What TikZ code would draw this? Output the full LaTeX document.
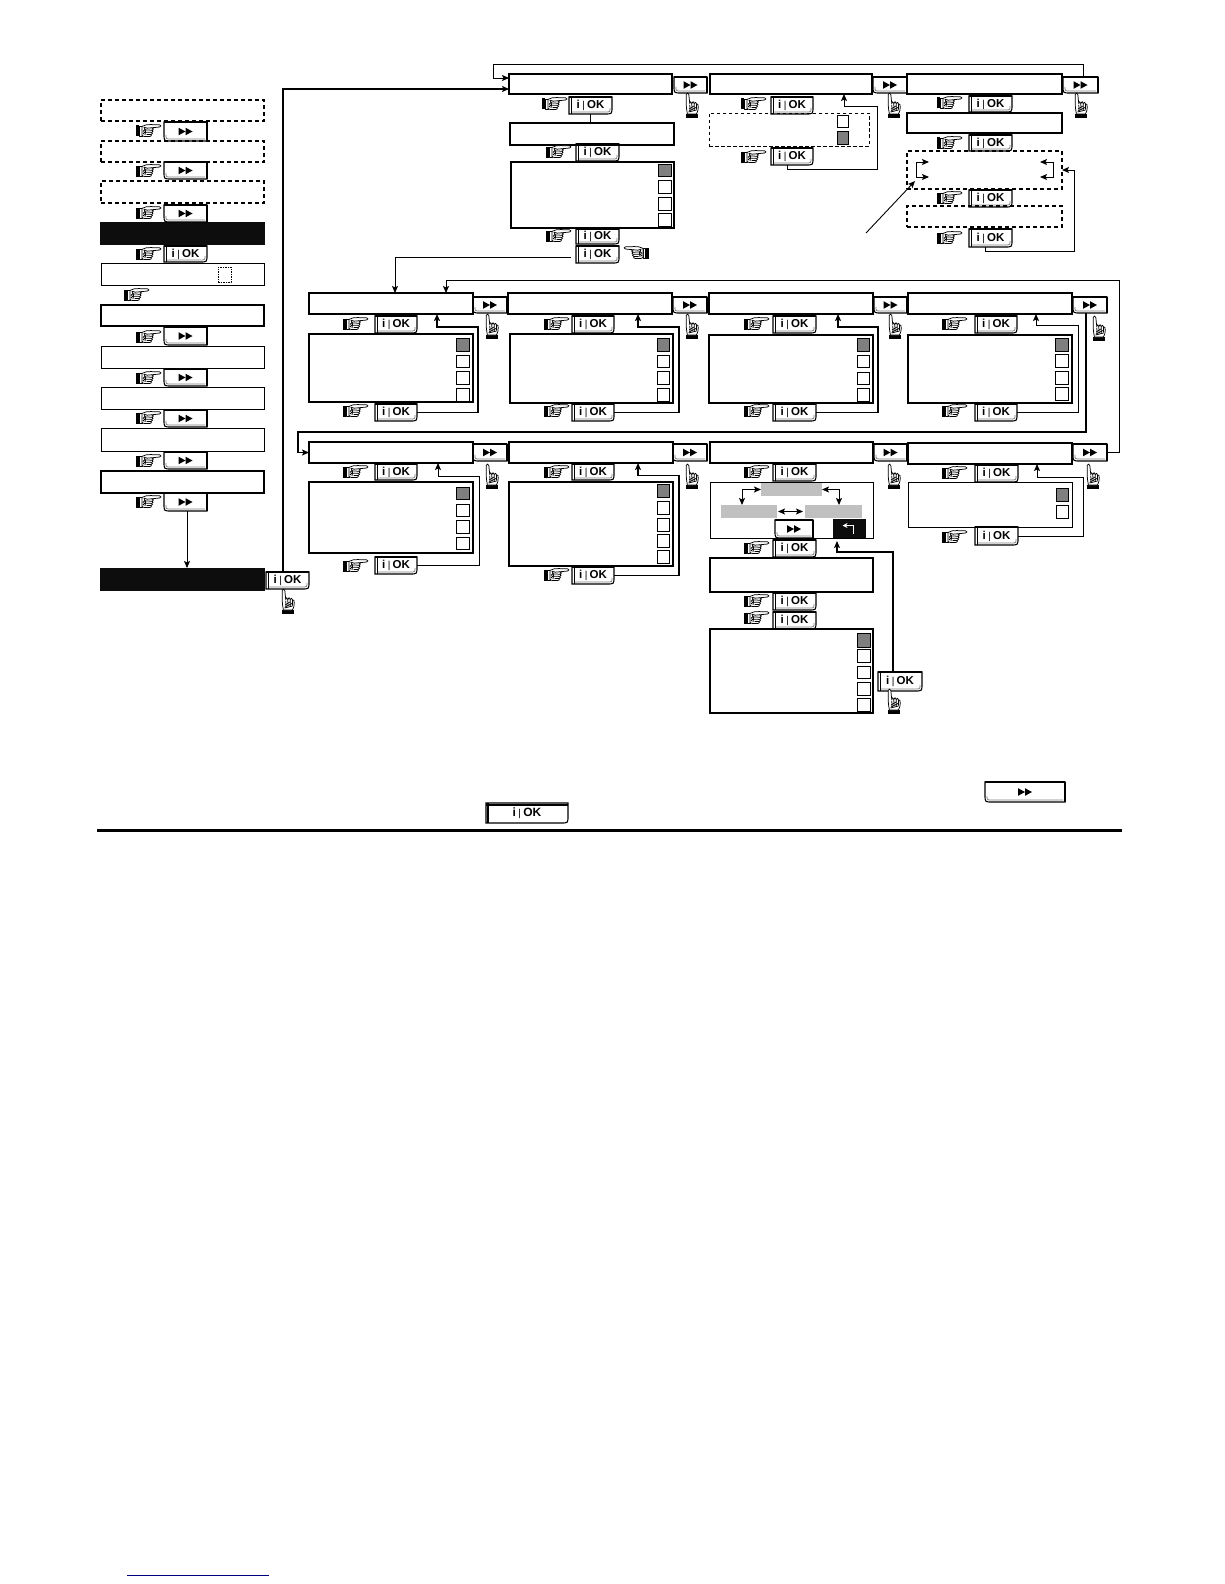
\documentclass[tikz,border=0pt]{standalone}
\usepackage{fontspec}
\usetikzlibrary{arrows.meta}
\newfontfamily\btnfont{Liberation Sans}
\definecolor{chkgray}{HTML}{7F7F7F}
\definecolor{bargray}{HTML}{C0C0C0}
\definecolor{linkblue}{HTML}{00007F}
\tikzset{
  base/.style={rectangle,inner sep=0pt,outer sep=0pt},
  whitebox/.style={base,draw=black,line width=1.3pt},
  thinbox/.style={base,draw=black,line width=1pt},
  dashbox/.style={base,draw=black,line width=1.3pt,dash pattern=on 4pt off 3pt},
  thindash/.style={base,draw=black,line width=.9pt,dash pattern=on 3.5pt off 2.5pt},
  tinydash/.style={base,draw=black,line width=.6pt,dash pattern=on 1.5pt off 1pt},
  blackbox/.style={base,fill=black!95,draw=none},
  graybar/.style={base,fill=bargray,draw=none},
  chkoff/.style={base,draw=black,line width=1pt,fill=white},
  chkon/.style={base,draw=black,line width=1pt,fill=chkgray},
  btnbase/.style={base},
  btnline/.style={line width=1.1pt,black},
  btntop/.style={line width=2.2pt,black},
  btnswoosh/.style={line width=.8pt,black!50},
  conn/.style={line width=.9pt,black},
  tconn/.style={line width=1.3pt,black},
  tip/.style={-{Stealth[length=7pt,width=6pt,inset=1.5pt]}},
  ptip/.style={{Stealth[length=7pt,width=6pt,inset=1.5pt]}-{Stealth[length=7pt,width=6pt,inset=1.5pt]}},
  phand/.pic={\begin{scope}[x=1pt,y=1pt,line width=.75pt,line join=round]
    \fill[black] (0,-5.5) rectangle (2.6,5.5);
    \draw[fill=white] (3.2,-5) rectangle (6,5);
    \draw[fill=white] (6,4.6) .. controls (9,6.5) and (12,6.6) .. (15,6.4)
       -- (23.5,6.2) .. controls (25.4,6) and (25.4,4.2) .. (23.5,4)
       -- (15.5,3.2) .. controls (18,3) and (18,1) .. (16,.8)
       .. controls (17.6,.5) and (17.4,-1.2) .. (15.6,-1.4)
       .. controls (17,-1.8) and (16.6,-3.4) .. (15,-3.4)
       .. controls (16,-4) and (15.4,-5.6) .. (13.6,-5.6)
       -- (11,-5.6) .. controls (9,-6) and (7.5,-5.2) .. (6,-4.6) -- cycle;
    \draw (8,3.8) .. controls (10,2) and (12,3.2) .. (15.5,3.2);
    \draw (10,1) -- (16,.8) (10,-1.2) -- (15.6,-1.4) (10.5,-3.4) -- (15,-3.4);
    \draw (8,3.8) .. controls (10,1) and (10,-1) .. (9,-4);
    \draw (7,-3) -- (9.5,-.5) (7,-.5) -- (9.5,2);
  \end{scope}},
  uhand/.pic={\begin{scope}[x=1pt,y=1pt,line width=.75pt,line join=round]
    \fill[black] (0,-5.6) rectangle (4,5.6);
    \draw[fill=white] (4,4.6) .. controls (7,5.2) and (10,5.6) .. (13,5.8)
       -- (23.5,5.8) .. controls (25.4,5.6) and (25.4,3.4) .. (23.5,3.2)
       -- (14,2.2) .. controls (17,2.4) and (17,.4) .. (14.5,.2)
       .. controls (17,-.2) and (17,-2) .. (14.5,-2.2)
       .. controls (16.4,-2.6) and (16,-4.6) .. (14,-4.6)
       .. controls (15,-5.4) and (13,-6.8) .. (11,-6.2)
       -- (8,-6) .. controls (6.5,-5.6) and (5,-5) .. (4,-4.4) -- cycle;
    \draw (13,2.2) -- (8,2) (14.5,.2) -- (8,0) (14.5,-2.2) -- (8,-2.2) (14,-4.6) -- (8.5,-4.4);
    \draw (6,3.5) -- (8,-4.5);
    \draw (7,3) -- (11,-5) (9,3) -- (12,-2);
  \end{scope}},
}
\newcommand{\BX}[6]{\node[#1,minimum width={(#5-#3)*1pt},minimum height={(#6-#4)*1pt}] (#2) at ({(#3+#5)/2},{(#4+#6)/2}) {};}
\newcommand{\okt}[1][11.5]{\btnfont\fontsize{#1}{#1}\selectfont\bfseries i\hspace{2.4pt}{\mdseries\fontsize{10}{10}\selectfont|}\hspace{2.2pt}OK}
% OK button: rounded at the lower right
\newcommand{\OKB}[5]{\node[btnbase,minimum width={(#4-#2)*1pt},minimum height={(#5-#3)*1pt}] (#1) at ({(#2+#4)/2},{(#3+#5)/2}) {\okt};
  \draw[btnline] (#1.north west) -- (#1.north east) -- ([yshift=7pt]#1.south east) .. controls (#1.south east) .. ([xshift=-7pt]#1.south east) -- (#1.south west) -- cycle;
  \draw[btntop] (#1.north west) -- (#1.north east);
  \draw[btnline] ([xshift=2.2pt]#1.north west) -- ([xshift=2.2pt]#1.south west);
  \draw[btnswoosh] ([shift={(-2pt,6pt)}]#1.south east) .. controls ([shift={(-2pt,2pt)}]#1.south east) .. ([shift={(-7pt,2pt)}]#1.south east) -- ([shift={(3pt,2pt)}]#1.south west);}
% fast-forward button: rounded at the lower left
\newcommand{\FFB}[5]{\node[btnbase,minimum width={(#4-#2)*1pt},minimum height={(#5-#3)*1pt}] (#1) at ({(#2+#4)/2},{(#3+#5)/2}) {};
  \draw[btnline] (#1.north west) -- (#1.north east) -- (#1.south east) -- ([xshift=7pt]#1.south west) .. controls (#1.south west) .. ([yshift=7pt]#1.south west) -- cycle;
  \draw[btntop] (#1.north west) -- (#1.north east);
  \draw[btntop] (#1.north east) -- (#1.south east);
  \draw[btnswoosh] ([shift={(2pt,6pt)}]#1.south west) .. controls ([shift={(2pt,2pt)}]#1.south west) .. ([shift={(7pt,2pt)}]#1.south west) -- ([shift={(-2pt,2pt)}]#1.south east);
  \begin{scope}[shift={(#1.center)},x=1pt,y=1pt]
    \fill (-7,3.8) -- (0,0) -- (-7,-3.8) -- cycle;
    \fill (0,3.8) -- (7,0) -- (0,-3.8) -- cycle;
  \end{scope}}
\newcommand{\RH}[2]{\pic at (#1,#2) {phand};}
\newcommand{\LH}[2]{\pic[xscale=-1] at (#1,#2) {phand};}
\newcommand{\UH}[2]{\pic[rotate=90] at (#1,#2) {uhand};}
\newcommand{\CK}[6]{\BX{#1}{#2}{#3}{#4}{#5}{#6}}
\begin{document}
\begin{tikzpicture}[x=1pt,y=-1pt]
\useasboundingbox (0,0) rectangle (1224,1584);
\fill[white] (0,0) rectangle (1224,1584);

% ---------- left column ----------
\BX{dashbox}{d1}{101}{100}{264}{121}
\BX{dashbox}{d2}{101}{141}{264}{162}
\BX{dashbox}{d3}{101}{181}{264}{203}
\BX{blackbox}{k1}{100}{222}{265}{245}
\BX{thinbox}{w1}{101}{263}{264}{285}
\BX{tinydash}{w1s}{218}{267}{231}{282}
\BX{whitebox}{w2}{101}{305}{264}{326}
\BX{thinbox}{w3}{101}{346}{264}{368}
\BX{thinbox}{w4}{101}{387}{264}{409}
\BX{thinbox}{w5}{101}{428}{264}{451}
\BX{whitebox}{w6}{101}{471}{264}{493}
\BX{blackbox}{k2}{100}{568}{265}{591}

\FFB{fl1}{164}{122}{207}{141}\RH{136}{131}
\FFB{fl2}{164}{162}{207}{179}\RH{136}{171}
\FFB{fl3}{164}{205}{207}{222}\RH{136}{213}
\OKB{okl}{164}{246}{207}{262}\RH{136}{254}
\RH{124}{295}
\FFB{fl4}{164}{327}{207}{345}\RH{136}{337}
\FFB{fl5}{164}{369}{207}{386}\RH{136}{378}
\FFB{fl6}{164}{410}{207}{427}\RH{136}{418}
\FFB{fl7}{164}{452}{207}{469}\RH{136}{461}
\FFB{fl8}{164}{493}{207}{511}\RH{136}{502}
\OKB{okk}{266}{572}{309}{589}\UH{288}{614}
\draw[conn,tip] ([xshift=1.5pt]fl8.south) -- ([xshift=4.5pt]k2.north);

% ---------- top row, block A ----------
\BX{whitebox}{ta}{509}{74}{672}{94}
\FFB{ffa}{674}{77}{707}{93}\UH{692}{118}
\OKB{oka1}{569}{97}{612}{114}\RH{542}{104}
\BX{whitebox}{ta2}{510}{123}{674}{145}
\OKB{oka2}{576}{144}{619}{161}\RH{546}{152}
\BX{whitebox}{ta3}{511}{162}{674}{228}
\CK{chkon}{ca1}{658}{164}{671}{176}
\CK{chkoff}{ca2}{658}{180}{671}{193}
\CK{chkoff}{ca3}{658}{197}{671}{210}
\CK{chkoff}{ca4}{658}{213}{671}{226}
\OKB{oka3}{576}{229}{619}{244}\RH{546}{236}
\OKB{oka4}{576}{246}{619}{263}\LH{649}{253}
\draw[conn] (oka1.south) -- ([xshift=-1.5pt]ta2.north);

% ---------- top row, block B ----------
\BX{whitebox}{tb}{710}{74}{872}{94}
\FFB{ffb}{873}{77}{907}{93}\UH{894}{118}
\OKB{okb1}{771}{97}{813}{114}\RH{741}{104}
\BX{thindash}{tb2}{709}{113}{869}{146}
\CK{chkoff}{cb1}{837}{116}{848}{128}
\CK{chkon}{cb2}{837}{132}{848}{144}
\OKB{okb2}{771}{148}{813}{165}\RH{741}{157}
\draw[conn,tip] ([xshift=-5pt]okb2.south) |- (877,169) -- (877,106) -| ([xshift=53pt]tb.south);

% ---------- top row, block C ----------
\BX{whitebox}{tc}{907}{74}{1062}{94}
\FFB{ffc}{1063}{77}{1098}{93}\UH{1081}{118}
\OKB{okc1}{969}{96}{1012}{112}\RH{937}{103}
\BX{whitebox}{tc2}{907}{113}{1062}{133}
\OKB{okc2}{969}{135}{1012}{151}\RH{937}{143}
\BX{dashbox}{tc3}{907}{151}{1062}{189}
\OKB{okc3}{969}{190}{1012}{207}\RH{937}{198}
\BX{dashbox}{tc4}{907}{206}{1062}{227}
\OKB{okc4}{969}{229}{1012}{247}\RH{937}{238}
\coordinate (bl1) at (929,162);
\coordinate (bl2) at (929,177);
\coordinate (br1) at (1040,162);
\coordinate (br2) at (1040,177);
\coordinate (diag1) at (866,233);
\coordinate (diag2) at (915,181);
\draw[conn,ptip] (bl1) -- (916,162) -- (916,177) -- (bl2);
\draw[conn,ptip] (br1) -- (1053,162) -- (1053,177) -- (br2);
\draw[conn,tip] (diag1) -- (diag2);
\draw[conn,tip] ([xshift=-5.5pt]okc4.south) |- (1074,251) -- (1074,170) -- ([yshift=0pt]tc3.east);

% loop over the top row
\draw[conn,tip] ([xshift=2.5pt]ffc.north) -- (1083,64) -- (493,64) |- ([yshift=6pt]ta.west);

% ---------- row 2 ----------
\BX{whitebox}{r1}{309}{293}{473}{314}
\FFB{ff1}{473}{297}{507}{313}\UH{492}{339}
\OKB{ok1a}{375}{316}{417}{333}\RH{343}{324}
\BX{whitebox}{b1}{309}{334}{473}{402}
\CK{chkon}{c11}{456}{338}{469}{351}
\CK{chkoff}{c12}{456}{355}{469}{367}
\CK{chkoff}{c13}{456}{371}{469}{384}
\CK{chkoff}{c14}{456}{388}{469}{401}
\OKB{ok1b}{375}{404}{417}{421}\RH{343}{411}
\draw[tconn,tip] (ok1b.east) -| (478,327) -| ([xshift=46pt]r1.south);

\BX{whitebox}{r2}{508}{293}{672}{314}
\FFB{ff2}{673}{297}{707}{313}\UH{692}{339}
\OKB{ok2a}{572}{316}{614}{333}\RH{544}{324}
\BX{whitebox}{b2}{510}{334}{673}{403}
\CK{chkon}{c21}{657}{338}{669}{351}
\CK{chkoff}{c22}{657}{355}{669}{367}
\CK{chkoff}{c23}{657}{371}{669}{384}
\CK{chkoff}{c24}{657}{388}{669}{401}
\OKB{ok2b}{572}{404}{614}{421}\RH{544}{411}
\draw[tconn,tip] (ok2b.east) -| (679,327) -| ([xshift=48pt]r2.south);

\BX{whitebox}{r3}{709}{293}{873}{314}
\FFB{ff3}{874}{297}{907}{313}\UH{895}{339}
\OKB{ok3a}{773}{316}{816}{333}\RH{744}{324}
\BX{whitebox}{b3}{709}{335}{873}{403}
\CK{chkon}{c31}{857}{338}{869}{351}
\CK{chkoff}{c32}{857}{355}{869}{367}
\CK{chkoff}{c33}{857}{372}{869}{384}
\CK{chkoff}{c34}{857}{388}{869}{401}
\OKB{ok3b}{773}{404}{816}{421}\RH{744}{411}
\draw[tconn,tip] (ok3b.east) -| (878,327) -| ([xshift=47pt]r3.south);

\BX{whitebox}{r4}{908}{293}{1072}{314}
\FFB{ff4}{1073}{297}{1107}{313}\UH{1099}{341}
\OKB{ok4a}{975}{316}{1017}{333}\RH{942}{324}
\BX{whitebox}{b4}{908}{335}{1072}{403}
\CK{chkon}{c41}{1055}{338}{1068}{351}
\CK{chkoff}{c42}{1055}{354}{1068}{367}
\CK{chkoff}{c43}{1055}{371}{1068}{384}
\CK{chkoff}{c44}{1055}{387}{1068}{400}
\OKB{ok4b}{975}{404}{1017}{421}\RH{942}{411}
\draw[conn,tip] (ok4b.east) -| (1078,325) -| ([xshift=46pt]r4.south);

% ---------- row 3 ----------
\BX{whitebox}{r5}{309}{442}{473}{463}
\FFB{ff5}{473}{444}{507}{461}\UH{492}{489}
\OKB{ok5a}{375}{464}{417}{480}\RH{343}{472}
\BX{whitebox}{b5}{309}{482}{473}{553}
\CK{chkon}{c51}{456}{487}{469}{499}
\CK{chkoff}{c52}{456}{504}{469}{516}
\CK{chkoff}{c53}{456}{520}{469}{533}
\CK{chkoff}{c54}{456}{537}{469}{549}
\OKB{ok5b}{375}{557}{417}{574}\RH{343}{566}
\draw[conn,tip] (ok5b.east) -| (479,476) -| ([xshift=47pt]r5.south);

\BX{whitebox}{r6}{509}{442}{673}{463}
\FFB{ff6}{673}{444}{707}{461}\UH{692}{489}
\OKB{ok6a}{572}{464}{614}{480}\RH{544}{472}
\BX{whitebox}{b6}{509}{482}{673}{566}
\CK{chkon}{c61}{657}{484}{669}{497}
\CK{chkoff}{c62}{657}{501}{669}{514}
\CK{chkoff}{c63}{657}{518}{669}{531}
\CK{chkoff}{c64}{657}{534}{669}{547}
\CK{chkoff}{c65}{657}{550}{669}{563}
\OKB{ok6b}{572}{567}{614}{584}\RH{544}{575}
\draw[tconn,tip] (ok6b.east) -| (679,475.5) -| ([xshift=47pt]r6.south);

\BX{whitebox}{r7}{710}{442}{873}{463}
\FFB{ff7}{874}{444}{907}{461}\UH{894}{489}
\OKB{ok7a}{773}{464}{816}{481}\RH{744}{472}
\BX{thinbox}{b7}{710}{482}{873}{538}
\BX{graybar}{grt}{761}{483}{822}{496}
\BX{graybar}{grl}{721}{505}{777}{518}
\BX{graybar}{grr}{805}{505}{862}{518}
\draw[conn,ptip] (grt.west) -| ([xshift=-7pt]grl.north);
\draw[conn,ptip] (grt.east) -| ([xshift=5.5pt]grr.north);
\draw[conn,ptip] ([xshift=1pt]grl.east) -- ([xshift=-2pt]grr.west);
\FFB{ff7i}{775}{520}{813}{538}
\BX{blackbox}{ret}{833}{519}{866}{538}
\draw[white,line width=1pt,-{Stealth[length=5pt,width=5pt]}] ([shift={(3.5pt,-5pt)}]ret.center) |- ([shift={(-7pt,3pt)}]ret.center);
\OKB{ok7b}{773}{540}{816}{557}\RH{744}{548}
\BX{whitebox}{c7}{710}{558}{873}{592}
\OKB{ok7c}{773}{593}{816}{610}\RH{744}{601}
\OKB{ok7d}{773}{612}{816}{629}\RH{744}{618}
\BX{whitebox}{d7}{710}{629}{873}{713}
\CK{chkon}{c71}{857}{633}{870}{647}
\CK{chkoff}{c72}{857}{649}{870}{662}
\CK{chkoff}{c73}{857}{666}{870}{678}
\CK{chkoff}{c74}{857}{682}{870}{695}
\CK{chkoff}{c75}{857}{698}{870}{711}
\OKB{ok7e}{878}{672}{922}{691}\UH{894}{714}
\draw[tconn,tip,shorten >=3pt] ([xshift=-7pt]ok7e.north) -- (893,552) -| ([xshift=45.5pt]b7.south);

\BX{whitebox}{r8}{908}{443}{1072}{464}
\FFB{ff8}{1073}{444}{1107}{461}\UH{1093}{489}
\OKB{ok8a}{975}{465}{1018}{482}\RH{942}{473}
\BX{thinbox}{b8}{908}{482}{1072}{527}
\CK{chkon}{c81}{1056}{488}{1068}{501}
\CK{chkoff}{c82}{1056}{505}{1068}{518}
\OKB{ok8b}{975}{527}{1018}{545}\RH{942}{537}
\draw[conn,tip] (ok8b.east) -| (1083,477) -| ([xshift=47pt]r8.south);

% ---------- long connectors ----------
\draw[tconn,tip] ([xshift=-4.5pt]okk.north) |- ([yshift=-5pt]ta.west);
\draw[conn,tip,shorten <=5pt] ([yshift=-2.5pt]oka4.west) -| ([xshift=4pt]r1.north);
\draw[conn,tip] (ff8.east) -- (1119,452.5) -- (1119,280) -| ([xshift=55pt]r1.north);
\draw[tconn,tip] ([xshift=-4pt]ff4.south) -- (1086,432) -- (298,432) |- (r5.west);

% ---------- legend buttons, rule, link line ----------
\FFB{ffbig}{985}{782}{1065}{802}
\node[btnbase,minimum width=82pt,minimum height=20pt] (okbig) at (527,813) {\okt[12]};
\draw[btnline] (okbig.north west) -- (okbig.north east) -- ([yshift=7pt]okbig.south east) .. controls (okbig.south east) .. ([xshift=-7pt]okbig.south east) -- (okbig.south west) -- cycle;
\draw[btnline] ([yshift=-2pt]okbig.north west) -- ([yshift=-2pt]okbig.north east);
\draw[btnline] ([xshift=2pt]okbig.north west) -- ([xshift=2pt]okbig.south west);
\draw[black,line width=3pt] (97,830.5) -- (1122,830.5);
\draw[linkblue,line width=1pt] (127,1575) -- (269,1575);
\end{tikzpicture}
\end{document}
